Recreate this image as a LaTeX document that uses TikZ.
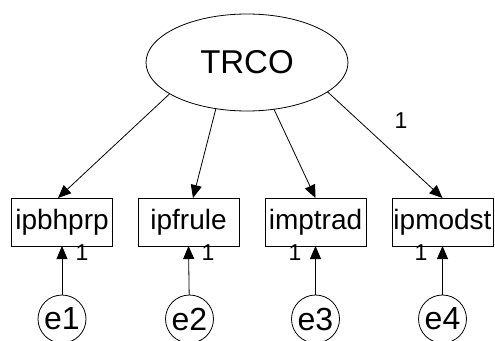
\documentclass[tikz,border=0pt]{standalone}
\usepackage{fontspec}
\setmainfont{Liberation Sans}
\usetikzlibrary{arrows.meta,shapes.geometric}
\begin{document}
\begin{tikzpicture}[x=1pt,y=-1pt,
  obs/.style={draw,line width=0.8pt,minimum width=101pt,minimum height=48pt,inner sep=0pt,outer sep=0pt,font=\fontsize{28}{30}\selectfont},
  lat/.style={draw,ellipse,line width=0.8pt,minimum width=202pt,minimum height=97pt,inner sep=0pt,outer sep=0pt,font=\fontsize{33}{36}\selectfont},
  err/.style={draw,circle,line width=0.8pt,minimum size=48pt,inner sep=0pt,outer sep=0pt,font=\fontsize{32}{34}\selectfont},
  one/.style={inner sep=0pt,font=\fontsize{23}{25}\selectfont},
  arr/.style={line width=0.8pt,-{Triangle[length=13pt,width=11pt]}}]
\useasboundingbox (0,0) rectangle (495,340);
\node[lat] (T) at (247,62.5) {TRCO};
\node[obs] (b1) at (62,222) {ipbhprp};
\node[obs] (b2) at (188.5,222) {ipfrule};
\node[obs] (b3) at (315.5,222) {imptrad};
\node[obs] (b4) at (442.5,222) {ipmodst};
\node[err] (e1) at (62,319) {e1};
\node[err] (e2) at (189.5,319) {e2};
\node[err] (e3) at (315.5,319) {e3};
\node[err] (e4) at (442.5,319) {e4};
\draw[arr] (T.202.2) -- ([xshift=-4pt]b1.north);
\draw[arr] (T.236.3) -- ([xshift=4.5pt]b2.north);
\draw[arr] (T.300.1) -- ([xshift=0pt]b3.north);
\draw[arr] (T.340.8) -- ([xshift=0pt]b4.north);
\draw[arr] (e1) -- (b1.south);
\draw[arr] (e2) -- (b2.south);
\draw[arr] (e3) -- (b3.south);
\draw[arr] (e4) -- (b4.south);
\node[one] (l1) at (82,253) {1};
\node[one] (l2) at (208,253) {1};
\node[one] (l3) at (295,253) {1};
\node[one] (l4) at (421,253) {1};
\node[one] (l0) at (401,121) {1};
\end{tikzpicture}
\end{document}
